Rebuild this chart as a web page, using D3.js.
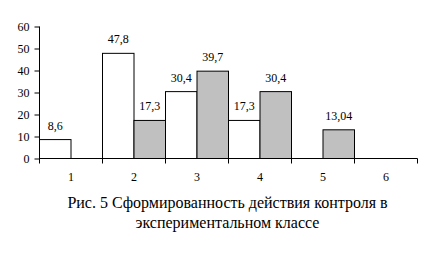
<!DOCTYPE html>
<html><head><meta charset="utf-8">
<script src="https://cdn.jsdelivr.net/npm/d3@7"></script>
<style>body{margin:0;background:#fff;} svg{display:block;}</style>
</head><body>
<script>
const categories = ["1","2","3","4","5","6"];
const seriesWhite = [8.6, 47.8, 30.4, 17.3, null, null];
const seriesGrey = [null, 17.3, 39.7, 30.4, 13.04, null];
const whiteLabels = ["8,6","47,8","30,4","17,3","",""];
const greyLabels = ["","17,3","39,7","30,4","13,04",""];
const yTicks = [0,10,20,30,40,50,60];
const captionLines = ["Рис. 5 Сформированность действия контроля в","экспериментальном классе"];

const W = 432, H = 254;
const svg = d3.select("body").append("svg").attr("width", W).attr("height", H);
const font = "'Liberation Serif', 'Times New Roman', serif";

const x = d3.scaleBand().domain(categories).range([39.5, 417.5]).padding(0);
const y = d3.scaleLinear().domain([0, 60]).range([158.5, 26.5]);
const half = x.bandwidth() / 2;

const g = svg.append("g");

const rows = categories.map((c, i) => ({c, w: seriesWhite[i], gr: seriesGrey[i], wl: whiteLabels[i], gl: greyLabels[i]}));
rows.forEach(r => {
  if (r.w != null) {
    g.append("rect").attr("x", x(r.c)).attr("y", y(r.w)).attr("width", half).attr("height", y(0) - y(r.w))
      .attr("fill", "#ffffff").attr("stroke", "#000").attr("stroke-width", 1);
    g.append("text").attr("x", x(r.c) + half / 2).attr("y", y(r.w) - 10).attr("text-anchor", "middle")
      .attr("font-family", font).attr("font-size", 12).text(r.wl);
  }
  if (r.gr != null) {
    g.append("rect").attr("x", x(r.c) + half).attr("y", y(r.gr)).attr("width", half).attr("height", y(0) - y(r.gr))
      .attr("fill", "#c0c0c0").attr("stroke", "#000").attr("stroke-width", 1);
    g.append("text").attr("x", x(r.c) + half * 1.5).attr("y", y(r.gr) - 10).attr("text-anchor", "middle")
      .attr("font-family", font).attr("font-size", 12).text(r.gl);
  }
});

// y axis
const yAxis = d3.axisLeft(y).tickValues(yTicks).tickSize(5).tickPadding(5).tickFormat(d3.format("d"));
const ya = svg.append("g").attr("transform", "translate(39.5,0)").call(yAxis);
ya.select(".domain").attr("d", `M0,${y(60)}V${y(0)}`);
ya.selectAll("line").attr("stroke", "#000");
ya.selectAll("text").attr("font-family", font).attr("font-size", 12).attr("fill", "#000");

// x axis
const xa = svg.append("g").attr("transform", `translate(0,${y(0)})`);
xa.append("line").attr("x1", x.range()[0]).attr("x2", x.range()[1]).attr("stroke", "#000");
const boundaries = categories.map(c => x(c)).concat([x.range()[1]]);
xa.selectAll(".tk").data(boundaries).enter().append("line")
  .attr("x1", d => d).attr("x2", d => d).attr("y1", 0).attr("y2", 5).attr("stroke", "#000");
xa.selectAll(".lb").data(categories).enter().append("text")
  .attr("x", d => x(d) + x.bandwidth() / 2).attr("y", 22).attr("text-anchor", "middle")
  .attr("font-family", font).attr("font-size", 12).text(d => d);

// caption
svg.selectAll(".cap").data(captionLines).enter().append("text")
  .attr("x", 227.5).attr("y", (d, i) => 208 + i * 20).attr("text-anchor", "middle")
  .attr("font-family", font).attr("font-size", 16).text(d => d);
</script>
</body></html>
